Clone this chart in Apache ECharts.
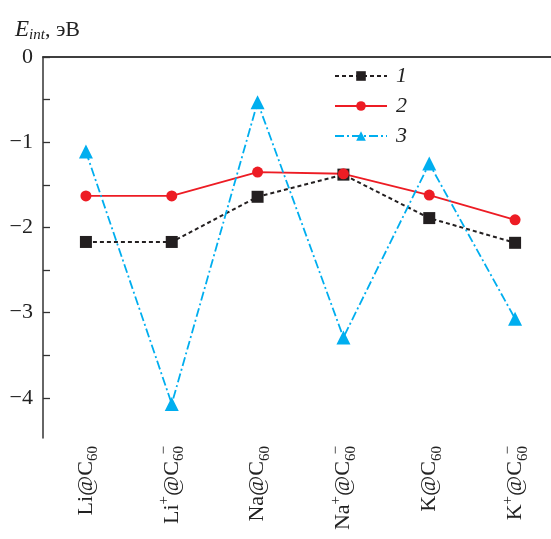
<!DOCTYPE html>
<html><head><meta charset="utf-8">
<script src="https://cdn.jsdelivr.net/npm/echarts@6/dist/echarts.min.js"></script>
<style>html,body{margin:0;padding:0;background:#fff}#c{width:551px;height:539px}</style>
</head><body><div id="c"></div>
<script>
const categories = ['Li@C60','Li+@C60-','Na@C60','Na+@C60-','K@C60','K+@C60-'];
const categoryLabels = [
  '{n|Li@C}{sub|60}',
  '{n|Li}{sup|+}{n|@C}{sub|60}{supz|−}',
  '{n|Na@C}{sub|60}',
  '{n|Na}{sup|+}{n|@C}{sub|60}{supz|−}',
  '{n|K@C}{sub|60}',
  '{n|K}{sup|+}{n|@C}{sub|60}{supz|−}'
];
const series1 = [-2.17, -2.17, -1.64, -1.38, -1.89, -2.18];
const series2 = [-1.63, -1.63, -1.35, -1.37, -1.62, -1.91];
const series3 = [-1.11, -4.07, -0.53, -3.29, -1.25, -3.07];
const seriesNames = ['1','2','3'];
const yTicks = [0,-0.5,-1,-1.5,-2,-2.5,-3,-3.5,-4];
const yLabels = [0,-1,-2,-3,-4];

const F = 'Liberation Serif';
const axisColor = '#333333';
const chart = echarts.init(document.getElementById('c'));
const rich = {
  n:{fontFamily:F,fontSize:22,color:'#222',lineHeight:30,verticalAlign:'middle'},
  sub:{fontFamily:F,fontSize:15,color:'#222',verticalAlign:'bottom',lineHeight:14},
  sup:{fontFamily:F,fontSize:15,color:'#222',verticalAlign:'top',lineHeight:14},
  supz:{fontFamily:F,fontSize:15,color:'#222',verticalAlign:'top',lineHeight:14,width:0,align:'right'}
};
chart.setOption({
  animation:false,
  backgroundColor:'#fff',
  title:{
    left:10,top:12,
    text:'{i|E}{s|int}{n|, эВ}',
    textStyle:{fontWeight:'normal',rich:{
      i:{fontFamily:F,fontStyle:'italic',fontWeight:'normal',fontSize:23,color:'#222',lineHeight:26},
      s:{fontFamily:F,fontStyle:'italic',fontWeight:'normal',fontSize:15,color:'#222',verticalAlign:'bottom',lineHeight:12},
      n:{fontFamily:F,fontWeight:'normal',fontSize:22,color:'#222',lineHeight:26}
    }}
  },
  legend:{
    left:329,top:60,orient:'vertical',
    itemWidth:52,itemHeight:12,itemGap:8,
    data:seriesNames,
    textStyle:{fontFamily:F,fontStyle:'italic',fontSize:22,color:'#222',lineHeight:20,padding:[0,0,0,4]}
  },
  grid:{left:43,top:57,width:515,height:381,containLabel:false,outerBoundsMode:'none'},
  xAxis:[{
    type:'category',data:categories,boundaryGap:true,position:'bottom',
    axisLine:{lineStyle:{color:axisColor,width:1.5}},
    axisTick:{inside:true,alignWithLabel:true,length:7,lineStyle:{color:axisColor,width:1.3}},
    axisLabel:{rotate:90,margin:8,formatter:(v,i)=>categoryLabels[i],rich:rich}
  },{
    type:'category',data:categories,position:'top',
    axisLine:{lineStyle:{color:axisColor,width:1.5}},
    axisTick:{show:false},axisLabel:{show:false}
  }],
  yAxis:{
    type:'value',min:-4.47,max:0,
    axisLine:{show:true,lineStyle:{color:axisColor,width:1.5}},
    axisTick:{show:true,inside:true,length:7,customValues:yTicks,lineStyle:{color:axisColor,width:1.3}},
    axisLabel:{customValues:yLabels,margin:10,fontFamily:F,fontSize:22,color:'#222',
      formatter:v=>v<0?'−'+Math.abs(v):String(v)},
    splitLine:{show:false}
  },
  series:[
    {name:'1',type:'line',data:series1,symbol:'rect',symbolSize:12,
      itemStyle:{color:'#231f20'},lineStyle:{color:'#231f20',width:2,type:[4,3]}},
    {name:'2',type:'line',data:series2,symbol:'circle',symbolSize:11,
      itemStyle:{color:'#ed1c24'},lineStyle:{color:'#ed1c24',width:1.8,type:'solid'}},
    {name:'3',type:'line',data:series3,symbol:'triangle',symbolSize:14,
      itemStyle:{color:'#00aeef'},lineStyle:{color:'#00aeef',width:1.8,type:[9,3,2,3]}}
  ]
});
</script></body></html>
